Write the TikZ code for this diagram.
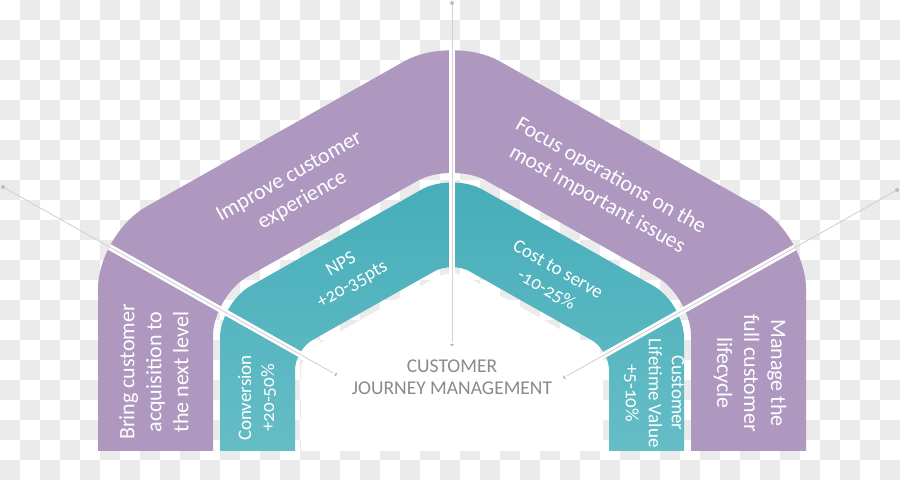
\documentclass[tikz,border=0pt]{standalone}
\usepackage{fontspec}
\setmainfont{Carlito}[Numbers=OldStyle]
\definecolor{purp}{HTML}{AF98C0}
\definecolor{tealtop}{HTML}{45ADB9}
\definecolor{tealbot}{HTML}{6DC1C9}
\definecolor{chk}{HTML}{EBEBEB}
\definecolor{lineg}{HTML}{D2D2D2}
\definecolor{dotg}{HTML}{BDBDBD}
\definecolor{ctext}{HTML}{8A8A8A}
\begin{document}
\begin{tikzpicture}[x=1pt,y=-1pt,
  roof/.style={text=white,align=center,inner sep=0pt,font=\fontsize{22}{27}\selectfont},
  tealtxt/.style={text=white,align=center,inner sep=0pt,font=\fontsize{19}{23}\selectfont},
  centertxt/.style={text=ctext,align=center,inner sep=0pt,font=\fontsize{19.5}{21.5}\selectfont},
  conn/.style={draw=lineg,line width=0.9pt},
  gapline/.style={draw=white,line width=6pt},
  dot/.style={circle,fill=dotg,inner sep=0pt,minimum size=4pt}]
\useasboundingbox (0,0) rectangle (900,480);
% checkerboard background
\foreach \i in {0,...,44}{\foreach \j in {0,...,23}{%
  \pgfmathtruncatemacro{\p}{mod(\i+\j,2)}%
  \ifnum\p=1 \fill[chk] (\i*20,\j*20) rectangle ++(20,20);\fi}}
% bands
\begin{scope}
\clip (0,0) rectangle (900,450);
\fill[purp,even odd rule]
  [rounded corners=55] (98,520) -- (98,233.9) -- (452,34.4) -- (806,233.9) -- (806,520) -- cycle
  [rounded corners=40] (213,520) -- (213,296.1) -- (452,161.4) -- (691,296.1) -- (691,520) -- cycle;
\shade[top color=tealtop,bottom color=tealbot,even odd rule]
  [rounded corners=35] (220,520) -- (220,303.1) -- (452,172.4) -- (684,303.1) -- (684,520) -- cycle
  [rounded corners=20] (295,520) -- (295,349.9) -- (452,261.4) -- (609,349.9) -- (609,520) -- cycle;
\fill[white]
  [rounded corners=18] (301,520) -- (301,353.5) -- (452,268.5) -- (603,353.5) -- (603,520) -- cycle;
\end{scope}
% dots
\node[dot] (dL) at (3,187) {};
\node[dot] (cL) at (335,374) {};
\node[dot] (dR) at (897,190) {};
\node[dot] (cR) at (565,377) {};
\node[dot] (dT) at (452,3) {};
\node[dot] (cT) at (452,344) {};
% gaps between segments
\begin{scope}
\clip [rounded corners=55] (98,520) -- (98,233.9) -- (452,34.4) -- (806,233.9) -- (806,520) -- cycle;
\draw[gapline] (dL.center) -- (cL.center);
\draw[gapline] (dR.center) -- (cR.center);
\draw[gapline] (dT.center) -- (cT.center);
\end{scope}
% connectors
\draw[conn] (dL) -- (cL);
\draw[conn] (dR) -- (cR);
\draw[conn] (dT) -- (cT);
% texts
\node[roof,rotate=29.4] (t1) at (296,189) {Improve customer\\experience};
\node[roof,rotate=-29.4] (t2) at (604,188) {Focus operations on the\\most important issues};
\node[roof,rotate=90] (t3) at (154,372) {Bring customer\\acquisition to\\the next level};
\node[roof,rotate=-90] (t4) at (750,373) {Manage the\\full customer\\lifecycle};
\node[tealtxt,rotate=29.4] (t5) at (347,275) {NPS\\+20-35pts};
\node[tealtxt,rotate=-29.4] (t6) at (552,280) {Cost to serve\\-10-25\%};
\node[tealtxt,rotate=90] (t7) at (257,398) {Conversion\\+20-50\%};
\node[tealtxt,rotate=-90] (t8) at (654,393) {Customer\\Lifetime Value\\+5-10\%};
\node[centertxt] (t9) at (452,377) {CUSTOMER\\JOURNEY MANAGEMENT};
\end{tikzpicture}
\end{document}
